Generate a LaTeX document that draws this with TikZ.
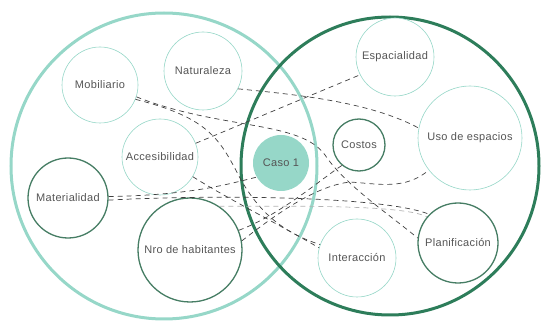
\documentclass[tikz,border=0pt]{standalone}
\usepackage{fontspec}
\setmainfont{Liberation Sans}[LetterSpace=3]
\usepackage{xcolor}
\usetikzlibrary{calc}
\definecolor{verdeclaro}{RGB}{150,215,200}
\definecolor{verdeoscuro}{RGB}{45,125,90}
\definecolor{verdenodo}{RGB}{70,125,100}
\definecolor{texto}{RGB}{85,85,85}
\begin{document}
\begin{tikzpicture}[x=1pt,y=-1pt,
	claro/.style={circle,draw=verdeclaro,line width=.6pt,fill=white,text=texto,inner sep=0pt,font=\fontsize{11}{13}\selectfont},
	oscuro/.style={claro,draw=verdenodo,line width=1.3pt},
	liga/.style={draw=black!75,line width=.7pt,dash pattern=on 5pt off 4pt},
	ligaclara/.style={liga,draw=black!30}]
	\useasboundingbox (0,0) rectangle (544,323);
	\draw[verdeclaro,line width=3pt](164,166)circle[radius=153pt];
	\draw[verdeoscuro,line width=3pt](390,166)circle[radius=149pt];
	\node[claro,minimum size=76pt] (mob) at (100,85) {Mobiliario};
	\node[claro,minimum size=78pt] (nat) at (203,71) {Naturaleza};
	\node[claro,minimum size=76pt] (acc) at (160,157) {Accesibilidad};
	\node[oscuro,minimum size=80pt] (mat) at (68,198) {Materialidad};
	\node[oscuro,minimum size=104pt] (hab) at (190,250) {Nro de habitantes};
	\node[claro,draw=none,fill=verdeclaro,minimum size=56pt] (caso) at (281,163) {Caso 1};
	\node[claro,minimum size=78pt] (esp) at (395,57) {Espacialidad};
	\node[claro,minimum size=104pt] (uso) at (470,138) {Uso de espacios};
	\node[oscuro,minimum size=52pt] (cos) at (359,145) {Costos};
	\node[claro,minimum size=78pt] (int) at (357,258) {Interacción};
	\node[oscuro,minimum size=80pt] (pla) at (458,243) {Planificación};
	\draw[liga](nat.-27)..controls(300,95)and(370,102)..(uso.169);
	\draw[liga](acc.21)--(esp.207);
	\draw[liga](mob.-22)..controls(210,118)and(220,140)..(240,178)..controls(262,218)and(290,235)..(int.160);
	\draw[liga](mob.-18)..controls(220,130)and(300,120)..(325,155)..controls(345,185)and(390,215)..(pla.173);
	\draw[liga](hab.10)..controls(275,215)and(315,186)..(350,182)..controls(380,184)and(405,190)..(uso.218);
	\draw[liga](hab.22)..controls(280,215)and(320,180)..(cos.230);
	\draw[liga](mat.-3)..controls(200,195)and(380,195)..(pla.135);
	\draw[ligaclara](hab.56)..controls(300,206)and(405,205)..(pla.140);
	\draw[liga](mat.2)..controls(190,195)and(225,185)..(caso.210);
	\draw[liga](acc.-31)..controls(230,200)and(280,225)..(int.165);
\end{tikzpicture}
\end{document}
